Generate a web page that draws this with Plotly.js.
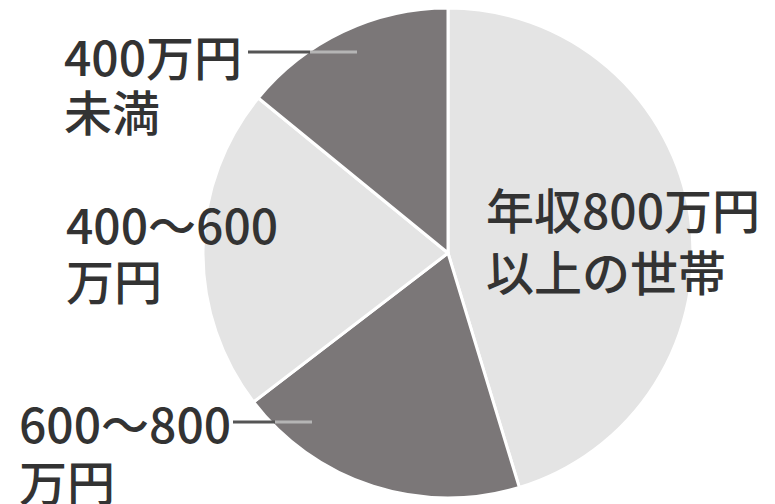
<!DOCTYPE html>
<html>
<head>
<meta charset="utf-8">
<script src="https://cdn.plot.ly/plotly-3.0.1.min.js"></script>
<style>html,body{margin:0;padding:0;background:#fff;}#chart{width:775px;height:504px;}</style>
</head>
<body>
<div id="chart"></div>
<script>
// Data
const categories = ["年収800万円以上の世帯", "600～800万円", "400～600万円", "400万円未満"];
const shares = [45.3, 19.3, 21.3, 14.1];
const sliceColors = ["#e4e4e4", "#7b7778", "#e4e4e4", "#7b7778"];
// Label lines (text shown around the pie)
const labelLines = [
  ["400万円", 62, 55],
  ["未満", 62, 110],
  ["400～600", 64, 223],
  ["万円", 64, 279],
  ["600～800", 17, 422],
  ["万円", 17, 480],
  ["年収800万円", 484, 208],
  ["以上の世帯", 484, 270]
];

const W = 775, H = 504;
const font = {family: "Noto Sans CJK JP, sans-serif", size: 48, weight: 500, color: "#333333"};

const annotations = labelLines.map(([t, px, py]) => ({
  text: t, xref: "paper", yref: "paper",
  x: px / W, y: 1 - py / H, xanchor: "left", yanchor: "middle",
  showarrow: false, font: font
}));

function seg(x0, x1, py, color) {
  return {type: "line", xref: "paper", yref: "paper",
    x0: x0 / W, x1: x1 / W, y0: 1 - py / H, y1: 1 - py / H,
    line: {color: color, width: 3}};
}
const shapes = [
  seg(248, 310, 52, "#555555"), seg(310, 357, 52, "#b5b5b5"),
  seg(233, 275, 422, "#555555"), seg(275, 312, 422, "#b5b5b5")
];

const cx = 448, cy = 253, r = 245;
const data = [{
  type: "pie",
  labels: categories,
  values: shares,
  sort: false,
  direction: "clockwise",
  rotation: 0,
  textinfo: "none",
  hoverinfo: "none",
  marker: {colors: sliceColors, line: {color: "#ffffff", width: 3}},
  domain: {x: [(cx - r) / W, (cx + r) / W], y: [1 - (cy + r) / H, 1 - (cy - r) / H]},
  showlegend: false
}];

const layout = {
  width: W, height: H,
  margin: {l: 0, r: 0, t: 0, b: 0},
  paper_bgcolor: "#ffffff",
  showlegend: false,
  annotations: annotations,
  shapes: shapes
};
Plotly.newPlot("chart", data, layout, {displayModeBar: false, staticPlot: true});
</script>
</body>
</html>
